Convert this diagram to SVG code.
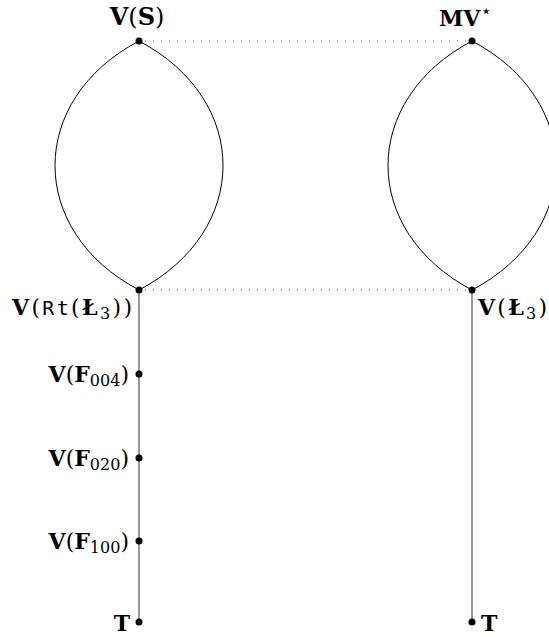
<svg xmlns="http://www.w3.org/2000/svg" width="549" height="637" viewBox="0 0 549 637">
<style>
.t{font-family:"DejaVu Serif","Liberation Serif",serif;font-size:22px;fill:#000}
.b{font-weight:bold}
.m{font-family:"DejaVu Sans Mono","Liberation Mono",monospace;font-size:20px}
.s{font-size:16px}
.e{fill:none;stroke:#000;stroke-width:1}
.v{fill:none;stroke:#333;stroke-width:1}
.d{fill:none;stroke:#555;stroke-width:1;stroke-dasharray:1 7}
</style>
<g id="connectors">
<path class="e" d="M139,41 C27,100 27,231 139,290"/>
<path class="e" d="M139,41 C251,100 251,231 139,290"/>
<path class="e" d="M472,41 C360,100 360,231 472,290"/>
<path class="e" d="M472,41 C584,100 584,231 472,290"/>
<line class="v" x1="139" y1="290" x2="139" y2="622"/>
<line class="v" x1="472" y1="290" x2="472" y2="622"/>
<line class="d" x1="145" y1="41" x2="468" y2="41"/>
<line class="d" x1="145" y1="290" x2="468" y2="290"/>
</g>
<g id="VS"><circle cx="139" cy="41" r="3.5"/><text class="t" x="137" y="25" text-anchor="middle" style="font-size:24px"><tspan class="b">V</tspan>(<tspan class="b">S</tspan>)</text></g>
<g id="MV"><circle cx="472" cy="41" r="3.5"/><text class="t" x="439" y="26"><tspan class="b">MV</tspan><tspan dy="-9" style="font-family:'DejaVu Sans',sans-serif;font-size:18px">⋆</tspan></text></g>
<g id="VRtL3"><circle cx="139" cy="290" r="3.5"/><text class="t" x="12" y="315" textLength="120" lengthAdjust="spacing"><tspan class="b">V</tspan>(<tspan class="m">Rt</tspan>(<tspan class="b">Ł</tspan><tspan class="s" dy="4">3</tspan><tspan dy="-4">))</tspan></text></g>
<g id="VL3"><circle cx="472" cy="290" r="3.5"/><text class="t" x="478" y="315" textLength="69" lengthAdjust="spacing"><tspan class="b">V</tspan>(<tspan class="b">Ł</tspan><tspan class="s" dy="4">3</tspan><tspan dy="-4">)</tspan></text></g>
<g id="VF004"><circle cx="139" cy="374" r="3.5"/><text class="t" x="129" y="382" text-anchor="end"><tspan class="b">V</tspan>(<tspan class="b">F</tspan><tspan class="s" dy="4">004</tspan><tspan dy="-4">)</tspan></text></g>
<g id="VF020"><circle cx="139" cy="458" r="3.5"/><text class="t" x="129" y="466" text-anchor="end"><tspan class="b">V</tspan>(<tspan class="b">F</tspan><tspan class="s" dy="4">020</tspan><tspan dy="-4">)</tspan></text></g>
<g id="VF100"><circle cx="139" cy="541" r="3.5"/><text class="t" x="129" y="549" text-anchor="end"><tspan class="b">V</tspan>(<tspan class="b">F</tspan><tspan class="s" dy="4">100</tspan><tspan dy="-4">)</tspan></text></g>
<g id="TL"><circle cx="139" cy="622" r="3.5"/><text class="t b" x="130" y="631" text-anchor="end">T</text></g>
<g id="TR"><circle cx="472" cy="622" r="3.5"/><text class="t b" x="481" y="631">T</text></g>
</svg>
